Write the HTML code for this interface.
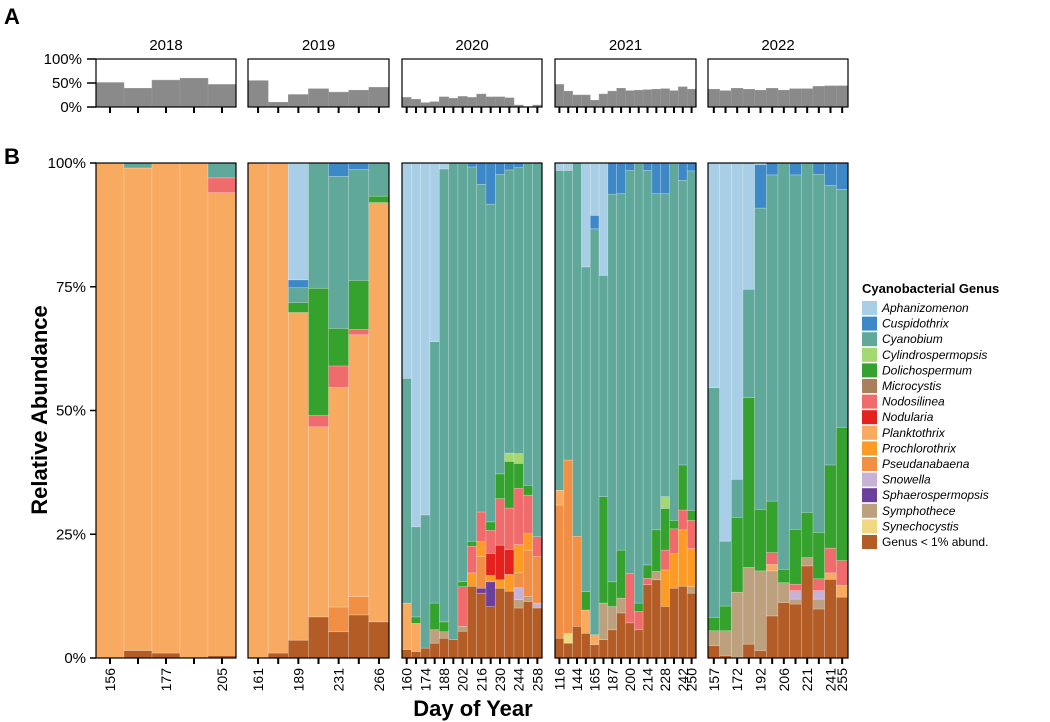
<!DOCTYPE html>
<html><head><meta charset="utf-8"><style>
body{margin:0;background:#fff;}
svg{display:block;font-family:"Liberation Sans",Arial,sans-serif;}
</style></head><body>
<svg id="chart" width="1050" height="722"></svg>
<script>
// ---------- DATA ----------
const years = ['2018','2019','2020','2021','2022'];
const genera = ['Aphanizomenon','Cuspidothrix','Cyanobium','Cylindrospermopsis','Dolichospermum','Microcystis','Nodosilinea','Nodularia','Planktothrix','Prochlorothrix','Pseudanabaena','Snowella','Sphaerospermopsis','Symphothece','Synechocystis','Genus < 1% abund.'];
const genusColors = ['#a8cfe5','#3d88c7','#5fa89a','#a4d870','#34a22d','#a8815c','#f06b6b','#e3221f','#f8aa60','#fc9c26','#f18f44','#c8b1d6','#6b3f9b','#bda07d','#f1d77f','#b35c26'];

// Panel A (percent)
const pctA2018 = [51,39,56,60,47];
const pctA2019 = [55,10,26,38,31,35,41];
const pctA2020 = [20,16,9,11,21,18,22,20,27,21,21,19,4,0,4];
const pctA2021 = [47,33,25,25,14,27,33,39,34,35,36,37,38,34,42,37];
const pctA2022 = [37,34,39,37,35,39,35,38,38,43,44,44];

// Tick labels
const ticks2018 = ['156','','177','','205'];
const ticks2019 = ['161','','189','','231','','266'];
const ticks2020 = ['160','','174','','188','','202','','216','','230','','244','','258'];
const ticks2021 = ['116','','144','','165','','187','','200','','214','','228','','242','250'];
const ticks2022 = ['157','','172','','192','','206','','221','','241','255'];

// 2018
const other2018 = [0,1.5,1,0,0.5];
const cyano2018 = [0,1,0,0,3];
const nodos2018 = [0,0,0,0,3];
const plank2018 = [100,97.5,99,100,93.5];
// 2019
const aph2019 = [0,0,23.6,0,0,0,0];
const cusp2019 = [0,0,1.6,0,2.7,1.2,0];
const cyano2019 = [0,0,3,25.3,30.7,22.4,6.7];
const dol2019 = [0,0,2,25.7,7.6,9.9,1.3];
const nodos2019 = [0,0,0,2.3,4.3,1.1,0];
const plank2019 = [100,99,66.2,38.4,44.4,52.9,84.7];
const pseud2019 = [0,0,0,0,5,3.7,0];
const other2019 = [0,1,3.6,8.3,5.3,8.7,7.3];
// 2020
const aph2020 = [43.5,73.5,71.1,36.1,1.2,0,0,0,0,0,0,0,0,0,0];
const cusp2020 = [0,0,0,0,0,0,0,0.8,4.3,8.3,2.3,1.5,0.9,0,0];
const cyano2020 = [45.4,18.2,26.9,52.8,91.5,96.3,84.6,75.6,66.2,64.2,60.5,57.2,57.8,65.1,75.5];
const cyl2020 = [0,0,0,0,0,0,0,0,0,0,0,1.7,2,0,0];
const dol2020 = [0,1.3,0,5.4,2,0,1,1,0,1.7,5,9.4,5,2,0];
const nodos2020 = [0,0,0,0,0,0,8,5.4,6,4.7,9.4,8.4,11.4,7.7,4];
const nodul2020 = [0,0,0,0,0,0,0,0,0,4.4,7,5,0,0,0];
const plank2020 = [9.4,5.7,0,0,0,0,0,0,0,0,0,0,0,0,0];
const prochl2020 = [0,0,0,0,0,0,0,2.7,3,1.3,1.7,3.4,5.7,3.4,0];
const pseud2020 = [0,0,0,0,0,0,0,0,6.4,0,0,0,3,9.4,9.4];
const snow2020 = [0,0,0,0,0,0,0,0,0,0,0,0,2.4,0,1];
const sphaer2020 = [0,0,0,0,0,0,0,0,1,5,0,0,0,0,0];
const symph2020 = [0,0,0,2.7,1.3,0,1,0,0,0,0,0,1.7,1,0];
const other2020 = [1.7,1.3,2,3,4,3.7,5.4,14.5,13.1,10.4,14.1,13.5,10.1,11.4,10.1];
// 2021
const aph2021 = [1.5,1.5,0,21,10.6,22.7,0,0,0,0,0,0,0,0,0,0];
const cusp2021 = [0,0,0,0,2.7,0,6.3,6.2,1.5,0,1.5,6.2,6.2,0,3.5,1.6];
const cyano2021 = [64.6,58.5,75.4,65.6,82,44.7,78.3,72,81.4,88.9,79.7,67.9,61.2,72.2,57.5,68.6];
const cyl2021 = [0,0,0,0,0,0,0,0,0,0,0,0,2.4,0,0,0];
const dol2021 = [0,0,0,3.7,0,21.5,5,9.7,0,1.7,2.7,8.4,8.4,1.7,9.1,2];
const nodos2021 = [0,0,0,0,0,0,0,0,10,3.7,1.3,0,4,5,4,5.7];
const plank2021 = [3,0,0,4.7,2,0,0,0,0,0,0,0,0,0,0,0];
const prochl2021 = [0,0,0,0,0,0,0,0,0,0,0,0,7.4,7,11.4,7.7];
const pseud2021 = [26.9,35,18.2,0,0,0,0,0,0,0,0,0,0,0,0,0];
const symph2021 = [0,0,0,0,0,7.4,4.7,3,0,0,0,1.7,0,0,0,1.3];
const synech2021 = [0,2,0,0,0,0,0,0,0,0,0,0,0,0,0,0];
const other2021 = [4,3,6.4,5,2.7,3.7,5.7,9.1,7.1,5.7,14.8,15.8,10.4,14.1,14.5,13.1];
// 2022
const aph2022 = [45.4,76.4,63.9,25.5,0,0,0,0,0,0,0,0];
const cusp2022 = [0,0,0,0,8.8,2.4,0,2.4,0,2.3,4.5,5.3];
const cyano2022 = [46.4,13.1,7.7,21.9,60.9,65.9,82.1,71.6,70.6,72.3,56.5,48.1];
const dol2022 = [2.7,5,15.1,34.3,12.4,10.4,2.7,11.1,9.1,9.4,16.8,26.9];
const nodos2022 = [0,0,0,0,0,2.4,0,1.3,0,2.4,5,5];
const plank2022 = [0,0,0,0,0,1.3,0,0,0,0,1.3,2.4];
const snow2022 = [0,0,0,0,0,0,0,1.7,0,1.7,0,0];
const symph2022 = [3,5,13.1,15.5,16.1,9.1,4,1,1.7,2,0,0];
const other2022 = [2.5,0.5,0.2,2.8,1.5,8.5,11.2,10.9,18.6,9.9,15.9,12.3];

// ---------- LAYOUT ----------
const NS='http://www.w3.org/2000/svg';
const svg=document.getElementById('chart');
function mk(tag,attrs,parent){const e=document.createElementNS(NS,tag);for(const k in attrs)e.setAttribute(k,attrs[k]);(parent||svg).appendChild(e);return e;}
const panelX=[[96,236],[248,389],[402,542],[555,696],[708,848]];
const aTop=59,aBot=107,bTop=163,bBot=658;
const yA=v=>aBot-(aBot-aTop)*v/100;
const yB=v=>bBot-(bBot-bTop)*v/100;

const yearData=[
 {pctA:pctA2018,ticks:ticks2018,series:{2:cyano2018,6:nodos2018,8:plank2018,15:other2018}},
 {pctA:pctA2019,ticks:ticks2019,series:{0:aph2019,1:cusp2019,2:cyano2019,4:dol2019,6:nodos2019,8:plank2019,10:pseud2019,15:other2019}},
 {pctA:pctA2020,ticks:ticks2020,series:{0:aph2020,1:cusp2020,2:cyano2020,3:cyl2020,4:dol2020,6:nodos2020,7:nodul2020,8:plank2020,9:prochl2020,10:pseud2020,11:snow2020,12:sphaer2020,13:symph2020,15:other2020}},
 {pctA:pctA2021,ticks:ticks2021,series:{0:aph2021,1:cusp2021,2:cyano2021,3:cyl2021,4:dol2021,6:nodos2021,8:plank2021,9:prochl2021,10:pseud2021,13:symph2021,14:synech2021,15:other2021}},
 {pctA:pctA2022,ticks:ticks2022,series:{0:aph2022,1:cusp2022,2:cyano2022,4:dol2022,6:nodos2022,8:plank2022,11:snow2022,13:symph2022,15:other2022}}
];

// Panel labels
let t;
t=mk('text',{x:4,y:24,'font-size':22,'font-weight':'bold'});t.textContent='A';


t=mk('text',{x:4,y:164,'font-size':22,'font-weight':'bold'});t.textContent='B';



// Panel A y axis
[['100%',100],['50%',50],['0%',0]].forEach(([lab,v])=>{
  const tx=mk('text',{x:82,y:yA(v)+5,'font-size':15,'text-anchor':'end'});tx.textContent=lab;
  
  
  mk('line',{x1:87,x2:96,y1:yA(v),y2:yA(v),stroke:'#000','stroke-width':1.5});
});
// Panel B y axis
[['100%',100],['75%',75],['50%',50],['25%',25],['0%',0]].forEach(([lab,v])=>{
  const tx=mk('text',{x:86,y:yB(v)+5,'font-size':15,'text-anchor':'end'});tx.textContent=lab;
  
  
  mk('line',{x1:90,x2:96,y1:yB(v),y2:yB(v),stroke:'#000','stroke-width':1.5});
});
t=mk('text',{x:0,y:0,'font-size':22,'font-weight':'bold','text-anchor':'middle',transform:'translate(47,410) rotate(-90)'});t.textContent='Relative Abundance';


t=mk('text',{x:473,y:716,'font-size':22,'font-weight':'bold','text-anchor':'middle'});t.textContent='Day of Year';



yearData.forEach((yd,yi)=>{
  const [x0,x1]=panelX[yi];
  const n=yd.pctA.length;
  const bw=(x1-x0)/n;
  const g=mk('g',{});
  
  
  // strip title
  const st=mk('text',{x:(x0+x1)/2,y:50,'font-size':15,'text-anchor':'middle'},g);st.textContent=years[yi];
  
  
  // Panel A bars
  yd.pctA.forEach((v,i)=>{
    const r=mk('rect',{x:x0+i*bw,y:yA(v),width:bw,height:aBot-yA(v),fill:'#8a8a8a',stroke:'#9a9a9a','stroke-width':0.5},g);
    
    
    mk('line',{x1:x0+(i+0.5)*bw,x2:x0+(i+0.5)*bw,y1:aBot,y2:aBot+6,stroke:'#000','stroke-width':2},g);
  });
  const fa=mk('rect',{x:x0,y:aTop,width:x1-x0,height:aBot-aTop,fill:'none',stroke:'#000','stroke-width':1.2},g);
  
  
  // Panel B stacked bars (genus 15 at bottom, 0 at top)
  for(let i=0;i<n;i++){
    let cum=0;
    for(let gi=15;gi>=0;gi--){
      const arr=yd.series[gi]; if(!arr) continue;
      const v=arr[i]; if(!v) continue;
      const yt=yB(cum+v), yb=yB(cum);
      const r=mk('rect',{x:x0+i*bw,y:yt,width:bw,height:yb-yt,fill:genusColors[gi],stroke:'rgba(255,255,255,0.35)','stroke-width':0.6},g);
      
      
      cum+=v;
    }
    const cx=x0+(i+0.5)*bw;
    mk('line',{x1:cx,x2:cx,y1:bBot,y2:bBot+6,stroke:'#000','stroke-width':2},g);
    const lab=yd.ticks[i];
    if(lab){
      const tx=mk('text',{x:0,y:0,'font-size':14,'text-anchor':'end',transform:`translate(${cx+5},${bBot+10}) rotate(-90)`},g);
      tx.textContent=lab;
      
      
    }
  }
  const fb=mk('rect',{x:x0,y:bTop,width:x1-x0,height:bBot-bTop,fill:'none',stroke:'#000','stroke-width':1.2},g);
  
  
});

// Legend
const lg=mk('g',{});


t=mk('text',{x:862,y:293,'font-size':13,'font-weight':'bold'},lg);t.textContent='Cyanobacterial Genus';


genera.forEach((name,i)=>{
  const y=301+i*15.6;
  const e=mk('g',{},lg);
  
  
  mk('rect',{x:862,y:y,width:15,height:14,fill:genusColors[i]},e);
  const tx=mk('text',{x:882,y:y+11,'font-size':12,'font-style':i<15?'italic':'normal'},e);
  tx.textContent=name;
});
</script>
</body></html>
